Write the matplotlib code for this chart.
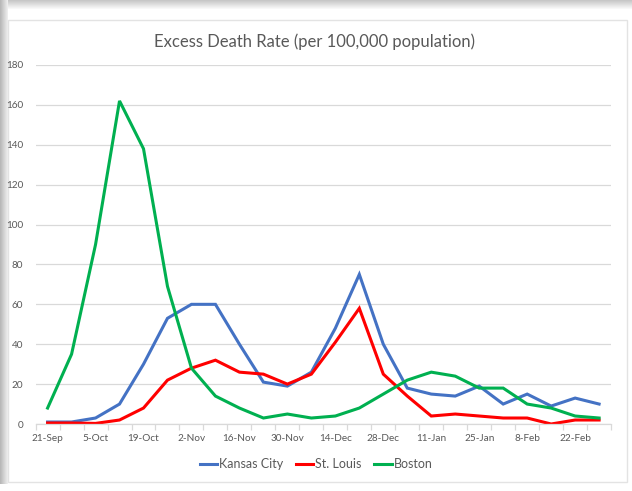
import matplotlib
matplotlib.use("Agg")
import matplotlib.pyplot as plt
from matplotlib.patches import Rectangle
from matplotlib.lines import Line2D
import numpy as np

weeks = ["21-Sep", "28-Sep", "5-Oct", "12-Oct", "19-Oct", "26-Oct", "2-Nov", "9-Nov",
         "16-Nov", "23-Nov", "30-Nov", "7-Dec", "14-Dec", "21-Dec", "28-Dec", "4-Jan",
         "11-Jan", "18-Jan", "25-Jan", "1-Feb", "8-Feb", "15-Feb", "22-Feb", "1-Mar"]
kansas_city = [1, 1, 3, 10, 30, 53, 60, 60, 40, 21, 19, 26, 48, 75, 40, 18,
               15, 14, 19, 10, 15, 9, 13, 10]
st_louis = [0.5, 0.5, 0.3, 2, 8, 22, 28, 32, 26, 25, 20, 25, 41, 58, 25, 14,
            4, 5, 4, 3, 3, 0, 2, 2]
boston = [8, 35, 90, 162, 138, 69, 28, 14, 8, 3, 5, 3, 4, 8, 15, 22,
          26, 24, 18, 18, 10, 8, 4, 3]
series_names = ["Kansas City", "St. Louis", "Boston"]
series_colors = ["#4472C4", "#FF0000", "#00B050"]
title = "Excess Death Rate (per 100,000 population)"

plt.rcParams['font.family'] = ['Lato', 'DejaVu Sans']

W, H = 632, 491
fig = plt.figure(figsize=(W / 100, H / 100), dpi=100)
fig.patch.set_facecolor("white")

# background decoration (card shadow and border)
bg = fig.add_axes([0, 0, 1, 1])
bg.set_xlim(0, W)
bg.set_ylim(H, 0)
bg.axis("off")
for i in range(9):
    g = 0.78 + 0.024 * i
    bg.add_patch(Rectangle((0, i), W, 1.05, color=(g, g, g), lw=0))
for i in range(8):
    g = 0.72 + 0.03 * i
    bg.add_patch(Rectangle((i, 0), 1.05, 484, color=(g, g, g), lw=0))
bg.add_patch(Rectangle((8, 9), W - 8, 474, facecolor="white", edgecolor="none"))
bg.add_patch(Rectangle((8, 20), 619, 462, facecolor="none", edgecolor="#E3E3E3", lw=1))

ax = fig.add_axes([35.6 / W, 67 / H, 575.5 / W, 359 / H])
ax.set_facecolor("none")
x = np.arange(len(weeks))
for vals, name, col in zip([kansas_city, st_louis, boston], series_names, series_colors):
    ax.plot(x, vals, color=col, lw=2.2, label=name, solid_joinstyle="miter")

ax.set_xlim(-0.5, len(weeks) - 0.5)
ax.set_ylim(0, 180)
ax.set_yticks(np.arange(0, 181, 20))
ax.grid(axis="y", color="#D9D9D9", lw=0.9)
ax.set_axisbelow(True)
for s in ["top", "right", "left"]:
    ax.spines[s].set_visible(False)
ax.spines["bottom"].set_color("#D9D9D9")
ax.spines["bottom"].set_linewidth(0.9)

ax.set_xticks(x[::2])
ax.set_xticklabels(weeks[::2])
ax.set_xticks(np.arange(-0.5, len(weeks), 1), minor=True)
ax.tick_params(axis="x", which="major", length=0, pad=7, labelsize=7.2, labelcolor="#595959")
ax.tick_params(axis="x", which="minor", length=4.5, width=0.9, color="#D9D9D9", direction="out")
ax.tick_params(axis="y", length=0, pad=9, labelsize=7.2, labelcolor="#595959")

fig.text(314 / W, 1 - 42 / H, title, ha="center", va="center", fontsize=12, color="#595959")

handles = [Line2D([0], [0], color=c, lw=2.2) for c in series_colors]
fig.legend(handles, series_names, loc="center", bbox_to_anchor=(316 / W, 1 - 464 / H),
           ncol=3, frameon=False, fontsize=9, handlelength=1.4, handletextpad=0.15,
           columnspacing=1.0, labelcolor="#595959")

fig.savefig("out.png", dpi=100)
